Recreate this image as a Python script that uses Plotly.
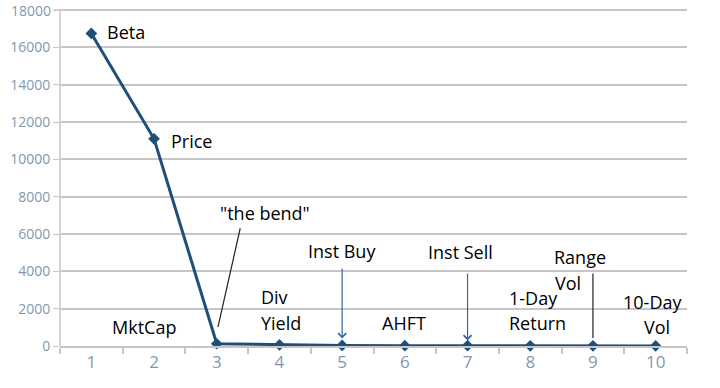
import plotly.graph_objects as go

categories = [1, 2, 3, 4, 5, 6, 7, 8, 9, 10]
values = [16750, 11100, 120, 60, 30, 20, 15, 10, 8, 5]
y_ticks = [0, 2000, 4000, 6000, 8000, 10000, 12000, 14000, 16000, 18000]

LINE = "#1f4e79"
GRID = "#c6c6c6"
TICK = "#8497b0"
ARROW = "#2e6da4"
FONT = "Open Sans"

fig = go.Figure()
fig.add_trace(go.Scatter(
    x=categories, y=values, mode="lines+markers",
    line=dict(color=LINE, width=3),
    marker=dict(symbol="diamond", size=9, color=LINE),
    showlegend=False, hoverinfo="skip", cliponaxis=False))

def label(text, x, y, anchor="left"):
    fig.add_annotation(x=x, y=y, xref="x", yref="y", text=text, showarrow=False,
                       xanchor=anchor, yanchor="middle",
                       font=dict(family=FONT, size=18, color="black"))

label("Beta", 1.22, 16800)
label("Price", 2.24, 11000)
label('"the bend"', 3.77, 7125, "center")
label("Div", 3.676, 2625)
label("Yield", 3.676, 1232)
label("MktCap", 1.30, 1018)
label("Inst Buy", 5.0, 5089, "center")
label("AHFT", 5.60, 1232)
label("Inst Sell", 6.89, 5036, "center")
label("Range", 8.343, 4768)
label("Vol", 8.359, 3375)
label("1-Day", 7.626, 2571)
label("Return", 7.626, 1232)
label("10-Day", 9.95, 2357, "center")
label("Vol", 10.02, 1018, "center")

def pointer(x0, y0, x1, y1, color, head):
    fig.add_annotation(x=x1, y=y1, ax=x0, ay=y0, xref="x", yref="y",
                       axref="x", ayref="y", text="", showarrow=True,
                       arrowhead=head, arrowsize=1.3, arrowwidth=1.2,
                       arrowcolor=color)

pointer(3.38, 6390, 3.02, 1020, "#222222", 0)
pointer(5.0, 4232, 5.0, 400, ARROW, 4)
pointer(7.0, 3964, 7.0, 300, ARROW, 4)
pointer(9.0, 3964, 9.0, 429, "#222222", 0)

fig.update_xaxes(
    range=[0.5, 10.5], tickvals=categories, ticktext=[str(c) for c in categories],
    showgrid=False, zeroline=False, showline=True, linecolor=GRID, linewidth=2,
    ticks="", tickfont=dict(family=FONT, size=17, color=TICK),
    minor=dict(tickvals=[c + 0.5 for c in [0] + categories], ticks="outside",
               ticklen=6, tickcolor=GRID, tickwidth=1.5))
fig.update_yaxes(
    range=[0, 18540], tickvals=y_ticks, ticktext=[str(v) for v in y_ticks],
    showgrid=True, gridcolor=GRID, gridwidth=2, zeroline=False,
    showline=False,
    ticks="outside", ticklen=6, tickcolor=GRID,
    tickfont=dict(family=FONT, size=14, color=TICK))

# left axis line drawn only up to the top grid line
fig.add_shape(type="line", xref="paper", yref="y", x0=0, x1=0, y0=0, y1=y_ticks[-1],
              line=dict(color=GRID, width=1.5))
# top grid line, its tick and label (not rendered by the axis near the top edge)
top = y_ticks[-1]
fig.add_shape(type="line", xref="paper", yref="y", x0=0, x1=1, y0=top, y1=top,
              line=dict(color=GRID, width=2), layer="below")
fig.add_shape(type="line", xref="paper", yref="y", x0=-6 / 627, x1=0, y0=top, y1=top,
              line=dict(color=GRID, width=1.5))
fig.add_annotation(x=0, y=top, xref="paper", yref="y", text=str(top), showarrow=False,
                   xanchor="right", yanchor="middle", xshift=-7,
                   font=dict(family=FONT, size=14, color=TICK))

fig.update_layout(
    width=720, height=388, paper_bgcolor="white", plot_bgcolor="white",
    margin=dict(l=60, r=33, t=0, b=42, autoexpand=False),
    font=dict(family=FONT))

fig.write_html("out.html", config={"displayModeBar": False},
               post_script="document.body.style.margin='0';document.body.style.overflow='hidden';")
